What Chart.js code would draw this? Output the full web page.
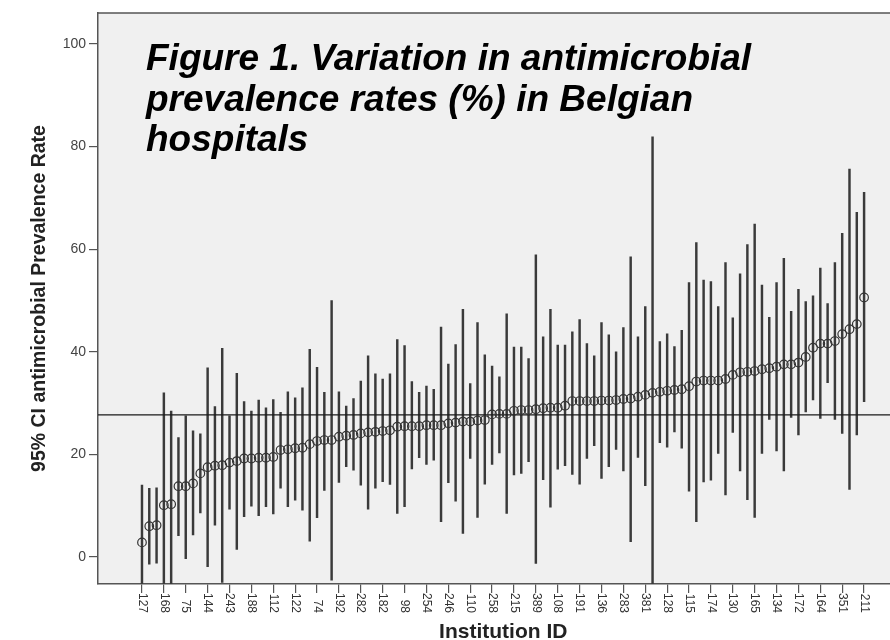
<!DOCTYPE html>
<html>
<head>
<meta charset="utf-8">
<script src="https://cdn.jsdelivr.net/npm/chart.js@4.4.1/dist/chart.umd.min.js"></script>
<style>
html,body{margin:0;padding:0;background:#fff;overflow:hidden;width:890px;height:640px;}
#wrap{position:relative;width:890px;height:640px;overflow:hidden;}
#c{position:absolute;left:0;top:0;}
#title{position:absolute;left:146px;top:38px;font-family:'Liberation Sans',Arial,sans-serif;font-weight:bold;font-style:italic;font-size:37px;line-height:40.7px;color:#000;white-space:nowrap;}
</style>
</head>
<body>
<div id="wrap">
<canvas id="c" width="914" height="660"></canvas>
<div id="title">Figure 1. Variation in antimicrobial<br>prevalence rates (%) in Belgian<br>hospitals</div>
</div>
<script>
// Institution ID labels shown on the x axis (every third hospital)
const tickLabels = ['127','168','75','144','243','188','112','122','74','192','282','182','98','254','246','110','258','215','389','108','191','136','283','381','128','115','174','130','165','134','172','164','351','211'];

// Antimicrobial prevalence rate (%) per hospital, sorted
const rateMean = [
 2.85, 6.0, 6.2, 10.1, 10.3, 13.8, 13.8, 14.35, 16.3, 17.5,
 17.8, 17.9, 18.4, 18.7, 19.2, 19.2, 19.35, 19.35, 19.5, 20.85,
 21.0, 21.2, 21.3, 22.0, 22.6, 22.8, 22.8, 23.45, 23.65, 23.8,
 24.1, 24.3, 24.4, 24.55, 24.7, 25.4, 25.5, 25.5, 25.5, 25.7,
 25.7, 25.7, 26.05, 26.2, 26.4, 26.4, 26.6, 26.7, 27.8, 27.9,
 27.9, 28.5, 28.65, 28.65, 28.8, 29.0, 29.1, 29.1, 29.5, 30.4,
 30.4, 30.4, 30.4, 30.5, 30.5, 30.6, 30.8, 30.9, 31.25, 31.6,
 32.0, 32.2, 32.4, 32.55, 32.7, 33.3, 34.2, 34.4, 34.4, 34.4,
 34.7, 35.5, 36.0, 36.1, 36.25, 36.6, 36.8, 37.1, 37.55, 37.55,
 37.9, 39.0, 40.8, 41.6, 41.6, 42.1, 43.45, 44.4, 45.4, 50.6];

// 95% CI lower bound
const ciLower = [
 -7, -1.4, -1.2, -8, -6, 4.15, -0.3, 4.3, 8.6, -1.9,
 6.2, -4.95, 9.35, 1.5, 7.85, 9.9, 8.05, 9.8, 8.4, 13.4,
 9.8, 11.1, 9.15, 3.1, 7.65, 13.0, -4.5, 14.55, 17.6, 16.95,
 14.0, 9.35, 13.4, 14.7, 14.15, 8.5, 9.8, 17.15, 19.35, 18.05,
 18.9, 6.9, 14.5, 10.9, 4.6, 19.2, 7.7, 14.2, 18.05, 20.3,
 8.5, 16.0, 16.3, 18.6, -1.25, 15.1, 9.7, 17.1, 17.8, 16.1,
 14.2, 19.2, 21.7, 15.3, 17.6, 20.95, 16.8, 3.0, 19.4, 13.9,
 -6, 22.3, 21.4, 24.4, 21.2, 12.85, 6.9, 14.65, 15.0, 20.2,
 12.1, 24.3, 16.8, 11.2, 7.7, 20.2, 26.8, 20.7, 16.8, 27.2,
 23.8, 28.3, 30.6, 27.0, 34.0, 26.8, 24.1, 13.2, 23.8, 30.3];

// 95% CI upper bound
const ciUpper = [
 14.0, 13.4, 13.5, 32.0, 28.45, 23.3, 27.5, 24.6, 24.0, 36.9,
 29.3, 40.7, 27.5, 35.8, 30.3, 28.45, 30.6, 29.1, 30.7, 28.2,
 32.2, 31.05, 33.0, 40.5, 36.95, 32.1, 50.0, 32.2, 29.4, 30.9,
 34.3, 39.2, 35.7, 34.7, 35.7, 42.4, 41.2, 34.2, 32.1, 33.3,
 32.7, 44.8, 37.6, 41.4, 48.3, 33.8, 45.7, 39.4, 37.2, 35.1,
 47.4, 40.9, 40.9, 38.7, 58.9, 42.9, 48.3, 41.3, 41.3, 43.9,
 46.3, 41.6, 39.2, 45.7, 43.3, 40.0, 44.7, 58.5, 42.9, 48.8,
 81.9, 42.0, 43.5, 41.0, 44.2, 53.5, 61.3, 54.0, 53.7, 48.8,
 57.4, 46.6, 55.2, 60.9, 64.9, 53.0, 46.7, 53.5, 58.2, 47.9,
 52.2, 49.8, 50.9, 56.3, 49.4, 57.4, 63.1, 75.6, 67.2, 71.1];

// overall (national) rate reference line
const overallRate = 27.7;
const yTickValues = [0, 20, 40, 60, 80, 100];

const X_MIN = -6.03, X_MAX = 105.09;
const Y_MIN = -5.26, Y_MAX = 106.04;
const tickPositions = tickLabels.map((_, k) => k * 3);

Chart.defaults.font.family = "'Liberation Sans', Arial, sans-serif";

const framePlugin = {
  id: 'frame',
  beforeDraw(chart) {
    const {ctx, chartArea: a} = chart;
    ctx.save();
    ctx.fillStyle = '#f0f0f0';
    ctx.fillRect(a.left, a.top, a.right - a.left, a.bottom - a.top);
    ctx.strokeStyle = '#555';
    ctx.lineWidth = 1.5;
    ctx.beginPath();
    ctx.moveTo(a.left, a.top);
    ctx.lineTo(a.right, a.top);
    ctx.stroke();
    ctx.restore();
  }
};

new Chart(document.getElementById('c'), {
  type: 'scatter',
  data: {
    datasets: [
      {
        type: 'scatter',
        data: rateMean.map((m, i) => ({x: i, y: m})),
        pointStyle: 'circle',
        pointRadius: 4.3,
        pointBorderWidth: 1.2,
        pointBorderColor: '#333',
        pointBackgroundColor: 'rgba(0,0,0,0)',
        order: 0
      },
      {
        type: 'line',
        data: [{x: X_MIN, y: overallRate}, {x: X_MAX, y: overallRate}],
        borderColor: '#1a1a1a',
        borderWidth: 1.4,
        pointRadius: 0,
        fill: false,
        order: 1,
        clip: 0
      },
      {
        type: 'bar',
        data: rateMean.map((m, i) => ({x: i, y: [ciLower[i], ciUpper[i]]})),
        backgroundColor: '#3a3a3a',
        borderWidth: 0,
        barThickness: 1.8,
        grouped: false,
        order: 2,
        clip: 0
      }
    ]
  },
  options: {
    responsive: false,
    animation: false,
    layout: {padding: {left: 0, right: 0, top: 13, bottom: 0}},
    plugins: {legend: {display: false}, tooltip: {enabled: false}},
    scales: {
      x: {
        type: 'linear',
        position: 'bottom',
        min: X_MIN,
        max: X_MAX,
        offset: false,
        afterBuildTicks: s => { s.ticks = tickPositions.map(v => ({value: v})); },
        afterFit: s => { s.height = 76; s.paddingLeft = 0; s.paddingRight = 0; },
        ticks: {
          autoSkip: false,
          minRotation: -90,
          maxRotation: -90,
          padding: 20,
          color: '#333',
          font: {size: 12},
          callback: (v, idx) => tickLabels[idx]
        },
        grid: {drawOnChartArea: false, drawTicks: true, tickLength: 9, color: '#555', lineWidth: 1.2, offset: false},
        border: {display: true, color: '#555', width: 1.5},
        title: {display: true, text: 'Institution ID', color: '#222', font: {size: 21, weight: 'bold'}, padding: {top: 0, bottom: 14.7}}
      },
      y: {
        type: 'linear',
        min: Y_MIN,
        max: Y_MAX,
        afterBuildTicks: s => { s.ticks = yTickValues.map(v => ({value: v})); },
        afterFit: s => { s.width = 98; s.paddingTop = 0; s.paddingBottom = 0; },
        ticks: {padding: 3, color: '#444', font: {size: 14}},
        grid: {drawOnChartArea: false, drawTicks: true, tickLength: 9, color: '#555', lineWidth: 1.2},
        border: {display: true, color: '#555', width: 1.5},
        title: {display: true, text: '95% CI antimicrobial Prevalence Rate', color: '#222', font: {size: 19.5, weight: 'bold'}, padding: {top: 28.3, bottom: 0}}
      }
    }
  },
  plugins: [framePlugin]
});
</script>
</body>
</html>
